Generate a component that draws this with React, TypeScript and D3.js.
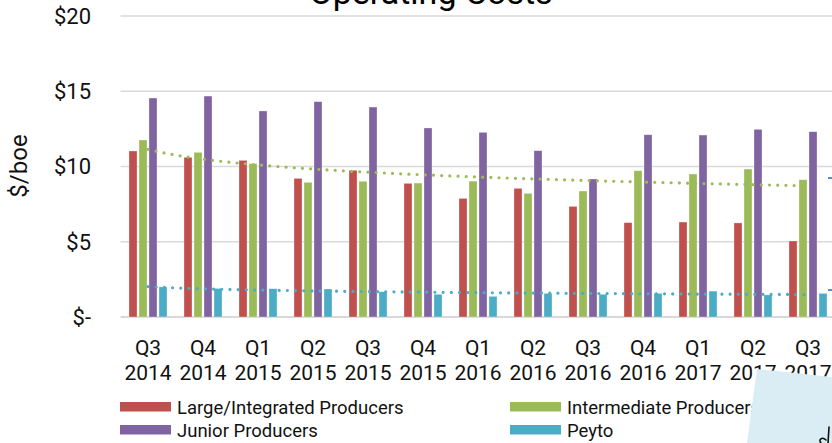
import React from "react";
import * as d3 from "d3";

const quarters = ["Q3", "Q4", "Q1", "Q2", "Q3", "Q4", "Q1", "Q2", "Q3", "Q4", "Q1", "Q2", "Q3"];
const years = ["2014", "2014", "2015", "2015", "2015", "2015", "2016", "2016", "2016", "2016", "2017", "2017", "2017"];
const largeIntegrated = [11.03, 10.61, 10.41, 9.21, 9.75, 8.88, 7.88, 8.55, 7.35, 6.27, 6.31, 6.25, 5.05];
const intermediate = [11.76, 10.94, 10.19, 8.95, 9.02, 8.9, 9.03, 8.22, 8.37, 9.72, 9.5, 9.83, 9.12];
const junior = [14.55, 14.68, 13.69, 14.31, 13.95, 12.56, 12.27, 11.05, 9.17, 12.11, 12.09, 12.47, 12.31];
const peyto = [2.0, 1.9, 1.88, 1.86, 1.68, 1.51, 1.37, 1.57, 1.51, 1.57, 1.72, 1.47, 1.57];
const seriesNames = ["Large/Integrated Producers", "Intermediate Producers", "Junior Producers", "Peyto"];
const seriesColors = ["#C0504D", "#9BBB59", "#8064A2", "#4BACC6"];
const yTicks = [0, 5, 10, 15, 20];

const FONT = "Roboto, 'Open Sans', sans-serif";

function logFit(vals: number[]) {
  const xs = vals.map((_, i) => Math.log(i + 1));
  const mx = d3.mean(xs) as number;
  const my = d3.mean(vals) as number;
  let num = 0, den = 0;
  xs.forEach((x, i) => { num += (x - mx) * (vals[i] - my); den += (x - mx) * (x - mx); });
  const b = num / den;
  const a = my - b * mx;
  return (t: number) => a + b * Math.log(t);
}

export default function App() {
  const W = 832, H = 443;
  const left = 120.5, right = 835.5, top = 16, bottom = 317;
  const keys = quarters.map((q, i) => `${q}-${years[i]}`);
  const x0 = d3.scaleBand<string>().domain(keys).range([left, right]).padding(0);
  const x1 = d3.scaleBand<number>().domain([0, 1, 2, 3]).range([7.5, 47.5]).paddingInner(0.2).paddingOuter(0.1);
  const y = d3.scaleLinear().domain([0, 20]).range([bottom, top]);
  const all = [largeIntegrated, intermediate, junior, peyto];

  const center = (i: number) => (x0(keys[i]) as number) + x0.bandwidth() / 2;
  const xi = d3.scaleLinear().domain([1, keys.length]).range([center(0), center(keys.length - 1)]);

  const trend = (vals: number[]) => {
    const f = logFit(vals);
    const pts = d3.range(1, keys.length + 0.001, 0.1).map((t) => [xi(t), y(f(t))] as [number, number]);
    return d3.line()(pts) as string;
  };

  return (
    <svg width={W} height={H} style={{ position: "absolute", left: 0, top: 0, background: "#fff" }} fontFamily={FONT}>
      <rect x={0} y={0} width={W} height={H} fill="#fff" />
      <text x={431} y={3.5} fontSize={34} textAnchor="middle" fill="#000">Operating Costs</text>
      {yTicks.map((t) => (
        <g key={t}>
          <line x1={left} x2={W + 10} y1={y(t)} y2={y(t)} stroke="#D9D9D9" strokeWidth={t === 0 ? 2 : 1.5} />
          <text x={91} y={y(t)} dy="0.36em" fontSize={22} textAnchor="end" fill="#111">{t === 0 ? "$-" : `$${t}`}</text>
        </g>
      ))}
      <text transform="translate(27,166) rotate(-90)" fontSize={24} textAnchor="middle" fill="#111">$/boe</text>
      {keys.map((k, i) => (
        <g key={k} transform={`translate(${x0(k)},0)`}>
          {all.map((vals, s) => (
            <rect key={s} x={x1(s)} y={y(vals[i])} width={x1.bandwidth()} height={bottom - y(vals[i])}
              fill={seriesColors[s]} stroke="#fff" strokeOpacity={0.5} strokeWidth={0.6} />
          ))}
          <text x={x0.bandwidth() / 2} y={355} fontSize={21} textAnchor="middle" fill="#111">{quarters[i]}</text>
          <text x={x0.bandwidth() / 2} y={379.5} fontSize={21} textAnchor="middle" fill="#111">{years[i]}</text>
        </g>
      ))}
      <path d={trend(intermediate)} fill="none" stroke="#9BBB59" strokeWidth={3.2} strokeLinecap="round" strokeDasharray="0 8.2" />
      <path d={trend(peyto)} fill="none" stroke="#4BACC6" strokeWidth={3.2} strokeLinecap="round" strokeDasharray="0 8.2" />
      <line x1={828} x2={833} y1={178} y2={178} stroke="#4F81BD" strokeWidth={1.8} />
      <line x1={828} x2={833} y1={290} y2={290} stroke="#4F81BD" strokeWidth={1.8} />
      {seriesNames.map((n, s) => {
        const lx = s % 2 === 0 ? 120 : 510;
        const ly = s < 2 ? 402 : 425;
        return (
          <g key={n}>
            <rect x={lx} y={ly} width={51} height={9.5} fill={seriesColors[s]} />
            <text x={lx + 57} y={ly + 11.5} fontSize={18.5} fill="#111">{n}</text>
          </g>
        );
      })}
      <polygon points="757,369 832,377 832,443 747,443" fill="#DAEDF4" />
      <path d="M829,427 L828,443 M826,440 C822,436 818,440 821,443" fill="none" stroke="#111" strokeWidth={1.6} strokeLinecap="round" />
    </svg>
  );
}
